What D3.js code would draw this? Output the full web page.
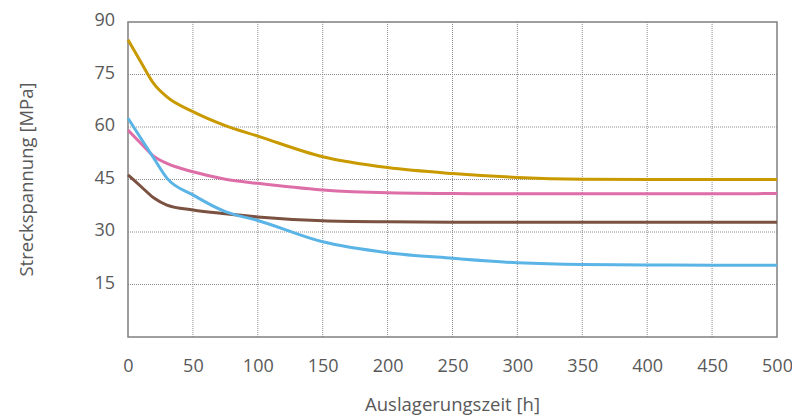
<!DOCTYPE html>
<html>
<head>
<meta charset="utf-8">
<title>Streckspannung</title>
<script src="https://cdn.jsdelivr.net/npm/d3@7"></script>
<style>
  body { margin: 0; background: #fff; }
  text { font-family: "Open Sans", sans-serif; fill: #595959; }
</style>
</head>
<body>
<script>
// data
var hours = [0, 10, 20, 30, 50, 75, 100, 150, 200, 250, 300, 350, 400, 450, 500];
var gold  = [84.9, 78.5, 72.3, 68.6, 64.4, 60.4, 57.4, 51.5, 48.4, 46.7, 45.6, 45.1, 45, 45, 45];
var pink  = [59.1, 55.3, 51.6, 49.6, 47.2, 45.1, 43.9, 42, 41.2, 41, 40.9, 40.9, 40.9, 40.9, 41];
var blue  = [62.5, 56.7, 51, 45.4, 40.6, 35.8, 33.3, 27.2, 24.1, 22.5, 21.2, 20.7, 20.6, 20.5, 20.5];
var brown = [46.3, 43, 39.7, 37.7, 36.3, 35.2, 34.3, 33.2, 32.9, 32.8, 32.8, 32.8, 32.8, 32.8, 32.8];
var xTicks = [0, 50, 100, 150, 200, 250, 300, 350, 400, 450, 500];
var yTicks = [15, 30, 45, 60, 75, 90];

var series = [
  { name: "gold",  values: gold,  color: "#C99A00" },
  { name: "pink",  values: pink,  color: "#DE6EA8" },
  { name: "brown", values: brown, color: "#7B5141" },
  { name: "blue",  values: blue,  color: "#5AB4E6" }
];

var w = 792, h = 416;
var m = { left: 128, right: 15, top: 22, bottom: 79 };

var svg = d3.select("body").append("svg")
  .attr("width", w).attr("height", h);

var x = d3.scaleLinear().domain([0, 500]).range([m.left, w - m.right]);
var y = d3.scaleLinear().domain([0, 90]).range([h - m.bottom, m.top]);

// grid
svg.append("g").selectAll("line")
  .data(yTicks.filter(function(d) { return d < 90; }))
  .enter().append("line")
  .attr("x1", x(0)).attr("x2", x(500))
  .attr("y1", function(d) { return y(d); })
  .attr("y2", function(d) { return y(d); })
  .attr("stroke", "#8c8c8c").attr("stroke-width", 1)
  .attr("stroke-dasharray", "1,1");

svg.append("g").selectAll("line")
  .data(xTicks.filter(function(d) { return d > 0 && d < 500; }))
  .enter().append("line")
  .attr("y1", y(0)).attr("y2", y(90))
  .attr("x1", function(d) { return x(d); })
  .attr("x2", function(d) { return x(d); })
  .attr("stroke", "#8c8c8c").attr("stroke-width", 1)
  .attr("stroke-dasharray", "1,1");

// frame
svg.append("rect")
  .attr("x", x(0)).attr("y", y(90))
  .attr("width", x(500) - x(0)).attr("height", y(0) - y(90))
  .attr("fill", "none").attr("stroke", "#7f7f7f").attr("stroke-width", 1.5);

// tick labels
var xAxis = d3.axisBottom(x).tickValues(xTicks).tickSize(0).tickPadding(22);
var gx = svg.append("g").attr("transform", "translate(0," + y(0) + ")").call(xAxis);
gx.select(".domain").remove();
gx.selectAll("text").style("font-size", "18px").attr("fill", "#595959");

var yAxis = d3.axisLeft(y).tickValues(yTicks).tickSize(0).tickPadding(13);
var gy = svg.append("g").attr("transform", "translate(" + x(0) + ",0)").call(yAxis);
gy.select(".domain").remove();
gy.selectAll("text").style("font-size", "18px").attr("fill", "#595959").attr("dy", "0.2em");

// lines
var line = d3.line()
  .x(function(d, i) { return x(hours[i]); })
  .y(function(d) { return y(d); })
  .curve(d3.curveMonotoneX);

svg.append("g").selectAll("path")
  .data(series)
  .enter().append("path")
  .attr("d", function(s) { return line(s.values); })
  .attr("fill", "none")
  .attr("stroke", function(s) { return s.color; })
  .attr("stroke-width", 3);

// axis titles
svg.append("text")
  .attr("x", (x(0) + x(500)) / 2).attr("y", 411)
  .attr("text-anchor", "middle")
  .style("font-size", "18.5px")
  .text("Auslagerungszeit [h]");

svg.append("text")
  .attr("transform", "translate(33," + ((y(0) + y(90)) / 2) + ") rotate(-90)")
  .attr("text-anchor", "middle")
  .style("font-size", "18.5px")
  .text("Streckspannung [MPa]");
</script>
</body>
</html>
